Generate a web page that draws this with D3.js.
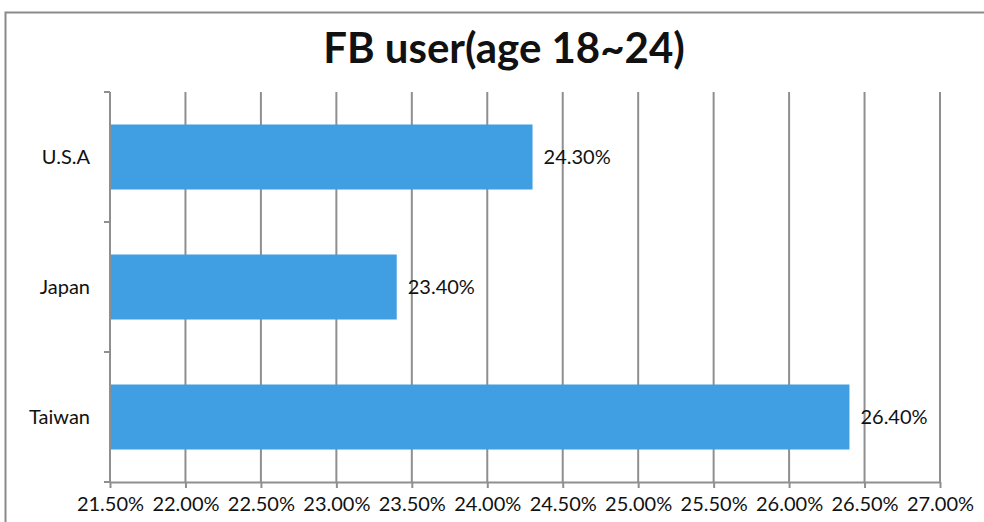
<!DOCTYPE html>
<html>
<head>
<meta charset="utf-8">
<script src="https://cdn.jsdelivr.net/npm/d3@7"></script>
<style>
  html, body { margin: 0; padding: 0; background: #fff; }
  svg { display: block; }
  text { font-family: Lato, "Open Sans", sans-serif; fill: #111; }
</style>
</head>
<body>
<svg id="chart" width="984" height="522"></svg>
<script>
const title = "FB user(age 18~24)";
const categories = ["U.S.A", "Japan", "Taiwan"];
const values = [24.3, 23.4, 26.4];
const valueLabels = ["24.30%", "23.40%", "26.40%"];
const xTicks = [21.5, 22.0, 22.5, 23.0, 23.5, 24.0, 24.5, 25.0, 25.5, 26.0, 26.5, 27.0];

const svg = d3.select("#chart");
const W = 984, H = 522;
const plot = { left: 110, right: 940, top: 92, bottom: 482 };

// outer chart frame (extends past the viewport on right and bottom)
svg.append("rect")
  .attr("x", 5.5).attr("y", 12.5)
  .attr("width", W + 20).attr("height", H + 20)
  .attr("fill", "#fff").attr("stroke", "#8a8a8a").attr("stroke-width", 2);

const x = d3.scaleLinear().domain([21.5, 27.0]).range([plot.left, plot.right]);
const y = d3.scaleBand().domain(categories).range([plot.top, plot.bottom])
  .paddingInner(0.5).paddingOuter(0.25);

const gridColor = "#8f8f8f";

// vertical gridlines
svg.append("g").selectAll("line").data(xTicks).join("line")
  .attr("x1", d => x(d)).attr("x2", d => x(d))
  .attr("y1", plot.top).attr("y2", plot.bottom)
  .attr("stroke", gridColor).attr("stroke-width", 2);

// bars
svg.append("g").selectAll("rect").data(categories).join("rect")
  .attr("x", x(21.5) + 1)
  .attr("y", d => y(d))
  .attr("width", (d, i) => x(values[i]) - x(21.5) - 1)
  .attr("height", y.bandwidth())
  .attr("fill", "#409ee3");

// x axis
const xAxis = d3.axisBottom(x).tickValues(xTicks)
  .tickFormat(d => d.toFixed(2) + "%").tickSize(6).tickSizeOuter(0).tickPadding(9);
const gx = svg.append("g").attr("transform", `translate(0,${plot.bottom})`).call(xAxis);
gx.select(".domain").attr("stroke", gridColor).attr("stroke-width", 2);
gx.selectAll(".tick line").attr("stroke", gridColor).attr("stroke-width", 2);
gx.selectAll(".tick text").attr("font-size", 20).attr("fill", "#111")
  .style("font-family", "Lato, sans-serif");

// y axis line
svg.append("line")
  .attr("x1", plot.left).attr("x2", plot.left)
  .attr("y1", plot.top).attr("y2", plot.bottom)
  .attr("stroke", gridColor).attr("stroke-width", 2);

// y ticks at band boundaries
const step = y.step();
const boundaries = categories.map(c => y(c) - y.paddingInner() * step / 2);
boundaries.push(y(categories[categories.length - 1]) + y.bandwidth() + y.paddingInner() * step / 2);
svg.append("g").selectAll("line").data(boundaries).join("line")
  .attr("x1", plot.left - 6).attr("x2", plot.left)
  .attr("y1", d => d).attr("y2", d => d)
  .attr("stroke", gridColor).attr("stroke-width", 2);

// category labels
svg.append("g").selectAll("text").data(categories).join("text")
  .attr("x", 90)
  .attr("y", d => y(d) + y.bandwidth() / 2)
  .attr("dy", "0.35em")
  .attr("text-anchor", "end")
  .attr("font-size", 20)
  .text(d => d);

// value labels
svg.append("g").selectAll("text").data(categories).join("text")
  .attr("x", (d, i) => x(values[i]) + 11)
  .attr("y", d => y(d) + y.bandwidth() / 2)
  .attr("dy", "0.35em")
  .attr("font-size", 20)
  .text((d, i) => valueLabels[i]);

// title
svg.append("text")
  .attr("x", 504).attr("y", 63)
  .attr("text-anchor", "middle")
  .attr("font-size", 42)
  .attr("font-weight", "bold")
  .text(title);
</script>
</body>
</html>
